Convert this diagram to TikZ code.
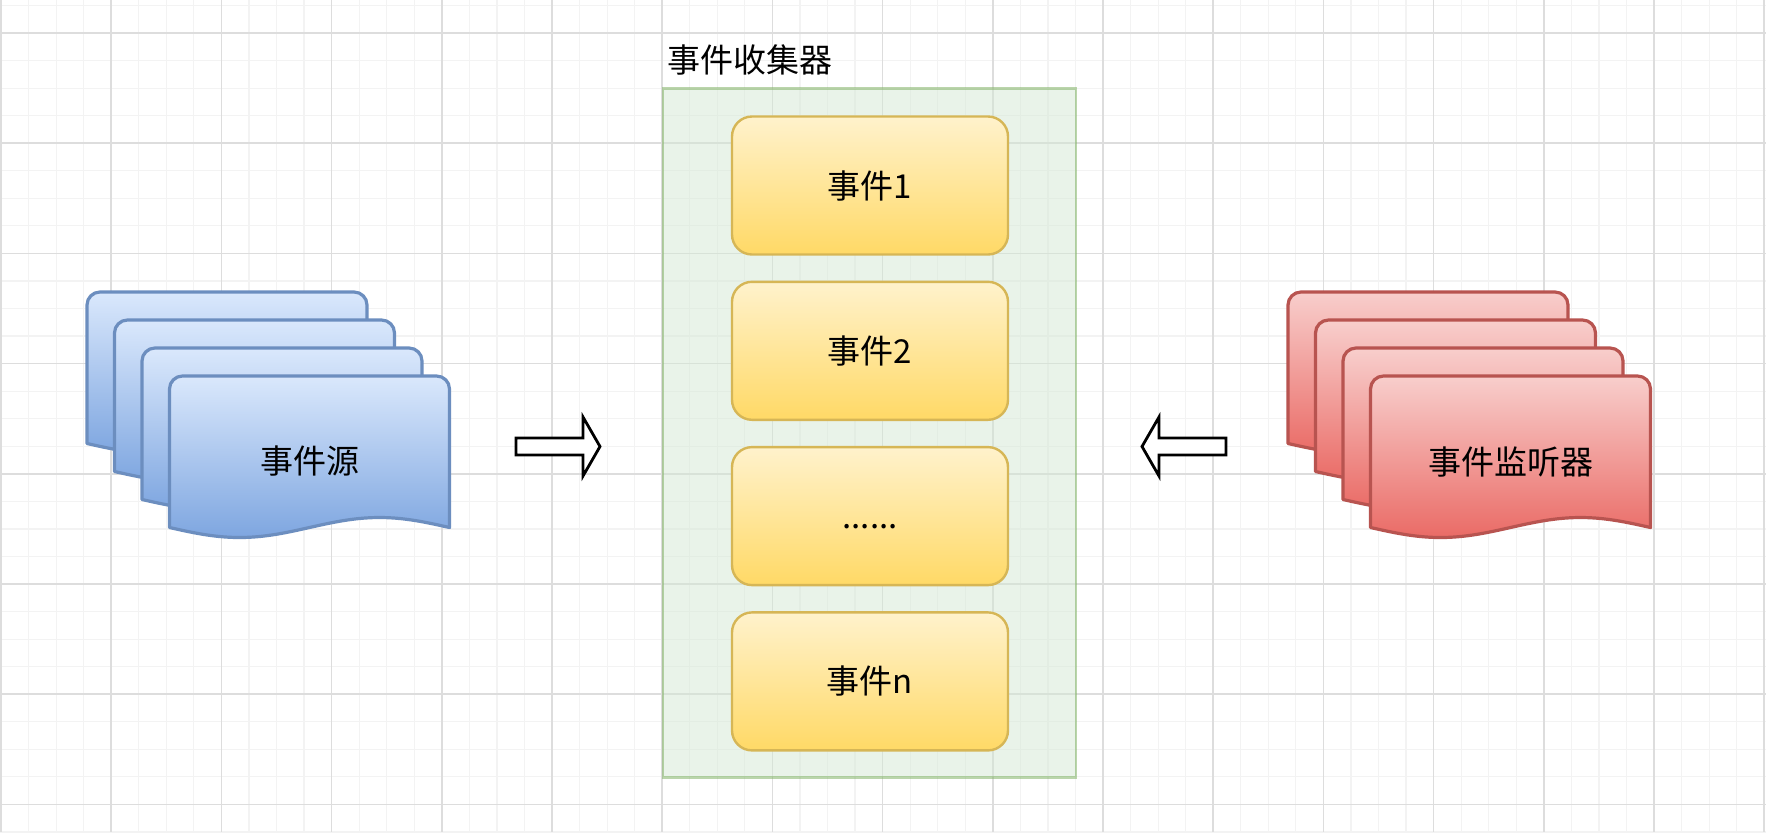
\documentclass[tikz,border=0pt]{standalone}
\usepackage{fontspec}
\setmainfont{Noto Sans CJK SC}
\definecolor{gridminor}{HTML}{F3F3F3}
\definecolor{gridmajor}{HTML}{DDDDDD}
\definecolor{bstroke}{HTML}{6C8EBF}
\definecolor{btop}{HTML}{DAE8FC}
\definecolor{bbot}{HTML}{7EA6E0}
\definecolor{rstroke}{HTML}{B85450}
\definecolor{rtop}{HTML}{F8CECC}
\definecolor{rbot}{HTML}{EA6B66}
\definecolor{ystroke}{HTML}{D6B656}
\definecolor{ytop}{HTML}{FFF2CC}
\definecolor{ybot}{HTML}{FFD966}
\definecolor{gstroke}{HTML}{82B366}
\definecolor{gfill}{HTML}{D5E8D4}
\newcommand\docsheet[3]{%
  \begin{scope}[shift={(#1,#2)}]
    \path[#3] (0,151) -- (0,13) .. controls (0,5.8) and (5.8,0) .. (13,0)
      -- (267,0) .. controls (274.2,0) and (280,5.8) .. (280,13)
      -- (280,151.5)
      -- plot[smooth, domain=280:0, samples=41] (\x,{151.5+10*sin(\x*1.285714)})
      -- cycle;
  \end{scope}}
\begin{document}
\begin{tikzpicture}[x=0.5pt,y=-0.5pt,
  minorgrid/.style={draw=gridminor, line width=0.6pt},
  majorgrid/.style={draw=gridmajor, line width=0.8pt},
  bluesheet/.style={draw=bstroke, line width=1.6pt, top color=btop, bottom color=bbot, line join=round},
  redsheet/.style={draw=rstroke, line width=1.6pt, top color=rtop, bottom color=rbot, line join=round},
  lbl/.style={font=\fontsize{16.5}{20}\selectfont, text=black, inner sep=0pt},
  eventbox/.style={draw=ystroke, line width=1.2pt, rounded corners=10pt, top color=ytop, bottom color=ybot,
    minimum width=138pt, minimum height=69pt, font=\fontsize{16.5}{20}\selectfont, inner sep=0pt},
  collector/.style={draw=gstroke, draw opacity=0.55, fill=gfill, fill opacity=0.5, line width=1.2pt,
    minimum width=206.6pt, minimum height=344.4pt, inner sep=0pt},
  blockarrow/.style={draw=black, fill=white, line width=1.4pt, line join=miter}]
\useasboundingbox (0,0) rectangle (1766,832);
\clip (0,0) rectangle (1766,832);
\fill[white] (0,0) rectangle (1766,832);
% grid
\foreach \i in {-1,...,64} {\draw[minorgrid] ({1+27.55*\i},0) -- ({1+27.55*\i},832);}
\foreach \i in {-2,...,29} {\draw[minorgrid] (0,{33+27.55*\i}) -- (1766,{33+27.55*\i});}
\foreach \i in {0,...,16} {\draw[majorgrid] ({1+110.2*\i},0) -- ({1+110.2*\i},832);}
\foreach \i in {0,...,7} {\draw[majorgrid] (0,{33+110.2*\i}) -- (1766,{33+110.2*\i});}
% collector
\node[collector] (coll) at (869.6,432.9) {};
\node[lbl, anchor=west] (colltitle) at (667,60) {事件收集器};
\node[eventbox] (e1) at (870,185.5) {事件1};
\node[eventbox] (e2) at (870,350.8) {事件2};
\node[eventbox] (e3) at (870,516.1) {\vphantom{事}......};
\node[eventbox] (en) at (870,681.4) {事件n};
% event source stack
\docsheet{87}{292}{bluesheet}
\docsheet{114.5}{320}{bluesheet}
\docsheet{142}{348}{bluesheet}
\docsheet{169.5}{376}{bluesheet}
\node[lbl] (src) at (309.5,461) {事件源};
% listener stack
\docsheet{1288}{292}{redsheet}
\docsheet{1315.5}{320}{redsheet}
\docsheet{1343}{348}{redsheet}
\docsheet{1370.5}{376}{redsheet}
\node[lbl] (lis) at (1511,462) {事件监听器};
% block arrows
\path[blockarrow] (516,438) -- (583,438) -- (583,417) -- (600,446.5) -- (583,476) -- (583,455) -- (516,455) -- cycle;
\path[blockarrow] (1226,438) -- (1159,438) -- (1159,417) -- (1142,446.5) -- (1159,476) -- (1159,455) -- (1226,455) -- cycle;
\end{tikzpicture}
\end{document}
